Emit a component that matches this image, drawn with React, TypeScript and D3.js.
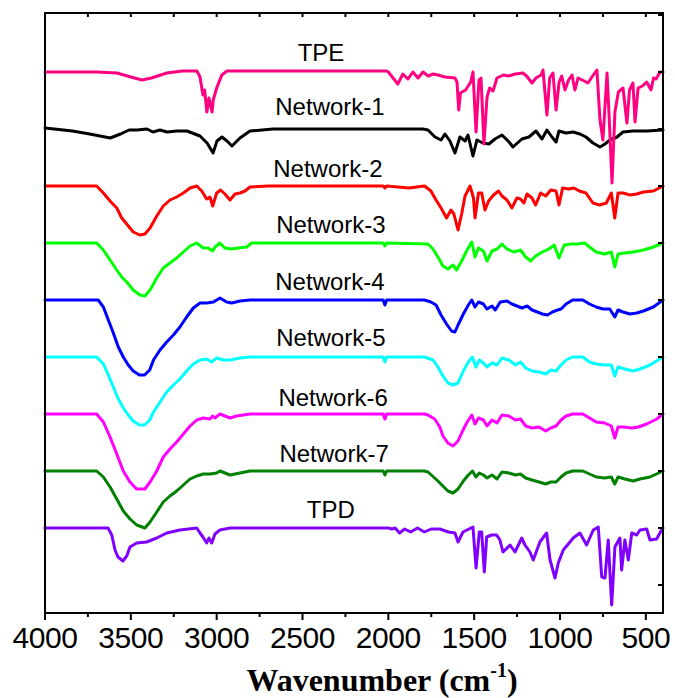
import React from 'react';
import * as d3 from 'd3';

const W = 675;
const H = 698;
const PLOT = { left: 45, right: 663, top: 13, bottom: 613 };

// wavenumber axis (cm-1), reversed
const X_DOMAIN: [number, number] = [4000, 400];
// stacked intensity (a.u.)
const Y_DOMAIN: [number, number] = [-85, 515];
const OFFSET_STEP = 57;

const majorTicks = [4000, 3500, 3000, 2500, 2000, 1500, 1000, 500];
const minorTicks = [3750, 3250, 2750, 2250, 1750, 1250, 750];
const topTicks = [3750, 3500, 3250, 3000, 2750, 2500, 2250, 2000, 1750, 1500, 1250, 1000, 750, 500];
const rightTicks = [-57, 0, 57, 114, 171, 228, 285, 342, 399, 456, 513];

const seriesNames = ['TPE', 'Network-1', 'Network-2', 'Network-3', 'Network-4', 'Network-5', 'Network-6', 'Network-7', 'TPD'];
const seriesColors = ['#FF0080', '#000000', '#FF0000', '#00FF00', '#0000FF', '#00FFFF', '#FF00FF', '#008000', '#8000FF'];
const labelWavenumbers = [2392, 2340, 2352, 2335, 2340, 2335, 2322, 2316, 2335];
const labelGaps = [11, 14, 9, 10, 10, 11, 8, 9, 10];

type Pt = [number, number];

const TPE: Pt[] = [[4000,0],[3700,0],[3580,-1],[3500,-5],[3435,-8],[3380,-6],[3290,-1],[3200,1],[3115,1],[3097,-5],[3080,-23],[3070,-18],[3057,-40],[3045,-26],[3027,-40],[3020,-28],[3000,-16],[2970,-3],[2940,1],[2500,1],[2010,1],[2000,0],[1945,-12],[1915,-2],[1886,-7],[1857,0],[1827,-6],[1798,0],[1768,-4],[1739,-2],[1710,-3],[1670,-5],[1612,-6],[1600,-10],[1590,-38],[1580,-21],[1550,-18],[1520,-10],[1507,0],[1489,-60],[1472,-8],[1460,-6],[1443,-72],[1425,-25],[1410,-16],[1390,-19],[1367,-6],[1330,-3],[1300,-4],[1260,-2],[1216,-1],[1195,-4],[1163,-11],[1140,-6],[1110,-3],[1099,2],[1076,-43],[1060,-6],[1041,-1],[1023,-38],[1005,-10],[990,-4],[971,-18],[950,-8],[930,-3],[913,-18],[895,-6],[870,-8],[837,-11],[810,-4],[785,2],[767,-48],[750,-68],[726,-1],[715,-40],[697,-111],[680,-40],[660,-20],[633,-16],[610,-51],[595,-18],[575,-11],[563,-50],[545,-16],[520,-14],[495,-10],[470,-18],[455,-6],[440,-7],[418,0],[400,0]];

const NETWORK_1: Pt[] = [[4000,1],[3840,-2],[3740,-5],[3680,-7],[3620,-9],[3560,-5],[3510,-1],[3464,-1],[3406,0],[3371,-3],[3330,-1],[3289,-3],[3230,-2],[3173,-2],[3097,-7],[3056,-14],[3021,-24],[2998,-12],[2969,-8],[2940,-12],[2911,-17],[2864,-9],[2806,-2],[2672,0],[1800,0],[1769,-1],[1728,-8],[1693,-11],[1670,-5],[1641,-12],[1612,-24],[1583,-8],[1553,-12],[1536,-6],[1507,-27],[1484,-11],[1449,-14],[1414,-15],[1379,-10],[1338,-6],[1297,-13],[1274,-18],[1222,-10],[1181,-8],[1140,-2],[1105,-10],[1076,-1],[1047,-8],[1023,-13],[1006,-2],[965,-4],[924,-3],[884,-5],[849,-8],[808,-14],[767,-18],[738,-15],[709,-11],[668,-8],[633,-3],[575,-2],[493,-2],[406,-1],[400,-1]];

const NETWORK_2: Pt[] = [[4000,0],[3699,0],[3660,-7],[3621,-15],[3582,-22],[3553,-32],[3524,-38],[3486,-46],[3447,-49],[3418,-48],[3388,-42],[3349,-30],[3311,-20],[3272,-14],[3233,-11],[3194,-7],[3155,-2],[3116,0],[3087,-5],[3058,-13],[3039,-11],[3023,-20],[3000,-7],[2977,-4],[2952,-8],[2922,-14],[2893,-8],[2864,-7],[2835,-5],[2806,-1],[2700,0],[2030,0],[2020,-2],[2010,0],[1880,-2],[1789,0],[1752,-5],[1722,-14],[1693,-22],[1661,-32],[1635,-24],[1618,-28],[1594,-44],[1573,-28],[1553,-10],[1524,0],[1504,-12],[1495,-32],[1475,-7],[1456,-7],[1437,-24],[1416,-15],[1387,-9],[1358,-5],[1338,-10],[1309,-14],[1280,-22],[1251,-12],[1230,-13],[1210,-17],[1192,-8],[1163,-12],[1142,-19],[1113,-7],[1083,-10],[1054,-4],[1023,-5],[1006,-19],[985,-2],[948,-3],[919,-2],[887,-5],[849,-7],[808,-17],[769,-19],[730,-17],[701,-7],[681,-32],[662,-7],[633,-7],[592,-9],[553,-8],[514,-6],[456,-5],[400,0]];

const NETWORK_3: Pt[] = [[4000,0],[3699,0],[3660,-7],[3621,-17],[3582,-27],[3553,-34],[3524,-39],[3486,-47],[3447,-52],[3418,-53],[3388,-47],[3349,-35],[3311,-25],[3272,-20],[3233,-15],[3194,-9],[3155,-3],[3116,0],[3078,-5],[3050,-5],[3023,-8],[3010,-4],[2981,0],[2952,-5],[2913,-6],[2874,-5],[2825,-4],[2796,0],[2030,0],[2020,-3],[2010,0],[1769,-1],[1740,-6],[1711,-14],[1682,-23],[1653,-26],[1623,-22],[1602,-27],[1573,-18],[1544,-8],[1514,1],[1495,-14],[1475,-5],[1446,-8],[1425,-18],[1396,-8],[1367,-6],[1338,-1],[1309,-6],[1269,-9],[1230,-7],[1200,-14],[1171,-18],[1142,-13],[1103,-9],[1065,-6],[1034,-2],[1006,-15],[975,-2],[936,-1],[897,-1],[857,0],[828,-4],[789,-9],[740,-11],[701,-9],[681,-24],[662,-11],[622,-10],[573,-9],[514,-7],[456,-4],[400,0]];

const NETWORK_4: Pt[] = [[4000,0],[3690,0],[3660,-7],[3631,-20],[3602,-33],[3573,-47],[3544,-57],[3515,-65],[3486,-71],[3450,-75],[3420,-75],[3390,-70],[3368,-60],[3330,-50],[3291,-42],[3252,-35],[3214,-27],[3175,-17],[3136,-8],[3097,-3],[3058,-3],[3019,-2],[2981,2],[2942,-2],[2913,-3],[2864,-1],[2806,0],[2030,0],[2020,-5],[2010,0],[1790,0],[1752,-2],[1722,-5],[1693,-15],[1661,-24],[1632,-31],[1612,-32],[1594,-25],[1563,-14],[1534,-5],[1514,0],[1495,-7],[1475,-2],[1446,-4],[1426,-9],[1396,-6],[1377,-10],[1348,-2],[1309,-1],[1280,-4],[1251,-6],[1222,-8],[1191,-6],[1163,-10],[1132,-12],[1103,-14],[1073,-15],[1044,-12],[1014,-10],[994,-9],[965,-4],[926,0],[867,0],[828,-4],[789,-7],[750,-9],[710,-9],[681,-17],[662,-10],[633,-12],[592,-14],[553,-13],[514,-11],[456,-7],[400,0]];

const NETWORK_5: Pt[] = [[4000,0],[3699,0],[3660,-7],[3631,-18],[3602,-30],[3573,-42],[3544,-51],[3515,-58],[3486,-64],[3450,-68],[3420,-68],[3390,-63],[3368,-55],[3330,-45],[3291,-35],[3252,-28],[3214,-22],[3175,-14],[3136,-7],[3097,-3],[3058,-2],[3030,-5],[3000,-1],[2960,-3],[2920,-3],[2864,-1],[2806,0],[2030,0],[2020,-5],[2010,0],[1790,0],[1740,-3],[1711,-10],[1682,-19],[1653,-26],[1623,-28],[1594,-26],[1563,-14],[1534,-5],[1510,0],[1490,-10],[1470,-3],[1446,-6],[1426,-10],[1396,-6],[1367,-8],[1338,-1],[1298,-3],[1259,-8],[1230,-5],[1200,-11],[1163,-14],[1122,-15],[1083,-17],[1054,-13],[1023,-14],[994,-8],[965,-3],[926,0],[867,0],[828,-5],[789,-7],[740,-8],[701,-8],[681,-19],[662,-10],[622,-12],[575,-14],[534,-12],[476,-8],[400,0]];

const NETWORK_6: Pt[] = [[4000,0],[3699,0],[3660,-8],[3621,-23],[3582,-40],[3544,-57],[3505,-68],[3466,-75],[3418,-75],[3388,-68],[3349,-57],[3311,-43],[3272,-35],[3233,-28],[3194,-20],[3155,-12],[3116,-6],[3078,-4],[3039,-5],[3023,-2],[3010,-4],[2981,0],[2922,-4],[2884,-2],[2806,0],[2030,0],[2020,-5],[2010,0],[1790,0],[1769,-1],[1730,-5],[1700,-13],[1682,-22],[1653,-29],[1623,-32],[1594,-27],[1573,-19],[1544,-9],[1514,-1],[1495,-10],[1475,-4],[1446,-6],[1425,-12],[1396,-6],[1367,-9],[1338,-1],[1298,-2],[1259,-6],[1230,-5],[1200,-12],[1163,-14],[1122,-13],[1083,-17],[1054,-14],[1023,-12],[994,-6],[965,-2],[926,0],[867,0],[828,-4],[789,-8],[740,-9],[701,-12],[681,-24],[662,-13],[633,-13],[582,-14],[543,-13],[495,-10],[436,-5],[400,0]];

const NETWORK_7: Pt[] = [[4000,0],[3699,0],[3660,-6],[3621,-16],[3582,-28],[3544,-40],[3505,-48],[3466,-54],[3418,-57],[3388,-51],[3349,-41],[3311,-31],[3272,-25],[3233,-20],[3194,-14],[3155,-8],[3116,-5],[3078,-3],[3039,-3],[3000,-2],[2981,0],[2922,-4],[2864,-2],[2806,0],[2030,0],[2020,-4],[2010,0],[1790,0],[1769,-1],[1711,-10],[1682,-15],[1653,-20],[1623,-22],[1594,-18],[1563,-10],[1534,-4],[1510,0],[1490,-6],[1470,-2],[1446,-4],[1425,-7],[1396,-4],[1367,-8],[1338,-1],[1298,-2],[1259,-4],[1230,-3],[1200,-7],[1163,-9],[1122,-11],[1083,-13],[1054,-11],[1023,-11],[994,-6],[965,-2],[926,0],[867,0],[828,-3],[789,-6],[740,-7],[701,-6],[681,-13],[662,-6],[622,-8],[573,-10],[534,-8],[476,-6],[400,0]];

const TPD: Pt[] = [[4000,0],[3633,0],[3611,-7],[3592,-22],[3575,-29],[3546,-33],[3524,-28],[3505,-19],[3466,-15],[3408,-14],[3349,-10],[3291,-5],[3214,-2],[3116,0],[3097,-5],[3080,-9],[3058,-15],[3045,-10],[3029,-15],[3010,-6],[2981,-2],[2922,0],[2000,0],[1980,-1],[1960,0],[1935,-5],[1905,-1],[1870,-4],[1830,0],[1790,-4],[1750,-1],[1700,-1],[1650,-4],[1612,-5],[1594,-14],[1565,-4],[1507,1],[1489,-40],[1470,-4],[1456,-4],[1441,-44],[1427,-9],[1398,-7],[1369,-7],[1350,-12],[1332,-24],[1291,-17],[1262,-24],[1223,-10],[1204,-17],[1175,-24],[1156,-32],[1117,-14],[1078,-5],[1058,-32],[1029,-50],[1010,-35],[981,-22],[942,-14],[923,-10],[884,-5],[845,-17],[806,-2],[777,1],[757,-49],[738,-50],[719,-12],[699,-77],[680,-19],[651,-10],[641,-42],[622,-12],[602,-32],[582,-5],[553,-7],[534,-2],[495,-1],[476,-12],[437,-11],[402,0],[400,0]];

const seriesData: Pt[][] = [TPE, NETWORK_1, NETWORK_2, NETWORK_3, NETWORK_4, NETWORK_5, NETWORK_6, NETWORK_7, TPD];

export default function App() {
  const x = d3.scaleLinear().domain(X_DOMAIN).range([PLOT.left, PLOT.right]);
  const y = d3.scaleLinear().domain(Y_DOMAIN).range([PLOT.bottom, PLOT.top]);
  const n = seriesData.length;

  const lines = seriesData.map((pts, i) => {
    const offset = (n - 1 - i) * OFFSET_STEP;
    const gen = d3
      .line<Pt>()
      .x((d) => x(d[0]))
      .y((d) => y(d[1] + offset))
      .curve(d3.curveLinear);
    return { path: gen(pts) || '', color: seriesColors[i], offset, i };
  });

  return (
    <svg width={W} height={H} viewBox={`0 0 ${W} ${H}`} style={{ display: 'block', position: 'absolute', left: 0, top: 0 }}>
      <rect x={0} y={0} width={W} height={H} fill="#fff" />
      {lines
        .slice()
        .reverse()
        .map((l) => (
          <path key={l.i} d={l.path} fill="none" stroke={l.color} strokeWidth={3} strokeLinejoin="round" strokeLinecap="round" />
        ))}
      {seriesNames.map((name, i) => {
        const offset = (n - 1 - i) * OFFSET_STEP;
        return (
          <text key={name} x={x(labelWavenumbers[i])} y={y(offset) - labelGaps[i]} textAnchor="middle" fontFamily="'Liberation Sans', Arial, sans-serif" fontSize={24} fill="#000">
            {name}
          </text>
        );
      })}
      {/* frame */}
      <rect x={PLOT.left} y={PLOT.top} width={PLOT.right - PLOT.left} height={PLOT.bottom - PLOT.top} fill="none" stroke="#000" strokeWidth={2} />
      {majorTicks.map((t) => (
        <line key={'M' + t} x1={x(t)} x2={x(t)} y1={PLOT.bottom} y2={PLOT.bottom + 7} stroke="#000" strokeWidth={2} />
      ))}
      {minorTicks.map((t) => (
        <line key={'m' + t} x1={x(t)} x2={x(t)} y1={PLOT.bottom} y2={PLOT.bottom + 4} stroke="#000" strokeWidth={2} />
      ))}
      {topTicks.map((t) => (
        <line key={'t' + t} x1={x(t)} x2={x(t)} y1={PLOT.top} y2={PLOT.top + 4} stroke="#000" strokeWidth={2} />
      ))}
      {rightTicks.map((t) => (
        <line key={'r' + t} x1={PLOT.right - 5} x2={PLOT.right} y1={y(t)} y2={y(t)} stroke="#000" strokeWidth={2} />
      ))}
      {majorTicks.map((t) => (
        <text key={'L' + t} x={x(t)} y={PLOT.bottom + 35} textAnchor="middle" fontFamily="'Liberation Sans', Arial, sans-serif" fontSize={30} letterSpacing={-0.4} fill="#000">
          {t}
        </text>
      ))}
      <text x={382} y={PLOT.bottom + 78} textAnchor="middle" fontFamily="'Liberation Serif', 'Times New Roman', serif" fontWeight="bold" fontSize={32} fill="#000">
        Wavenumber (cm
        <tspan fontSize={20} dy={-14}>-1</tspan>
        <tspan dy={14}>)</tspan>
      </text>
    </svg>
  );
}
